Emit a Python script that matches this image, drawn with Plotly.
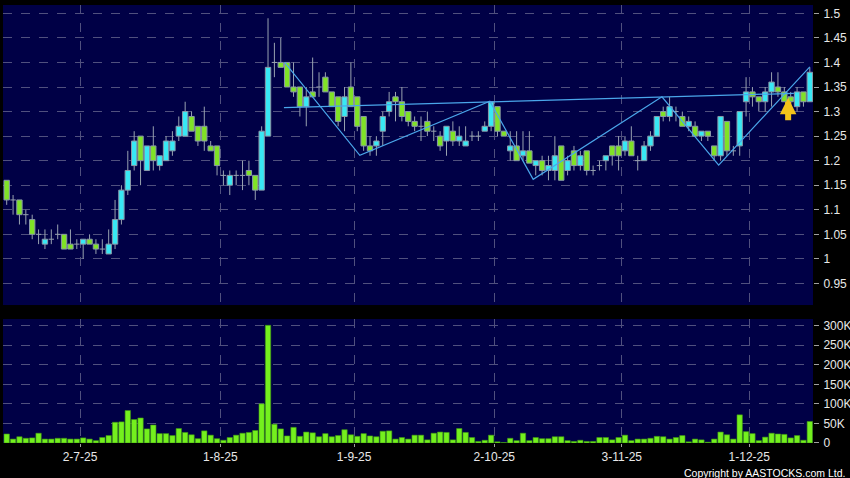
import pandas as pd
import plotly.graph_objects as go

# ---------------- data ----------------
holidays = ["2025-07-01", "2025-10-01", "2025-10-07", "2025-10-29"]
dates = [d.strftime("%Y-%m-%d") for d in pd.bdate_range("2025-06-16", "2025-12-15")
         if d.strftime("%Y-%m-%d") not in holidays]

open_ = [1.16, 1.12, 1.12, 1.09, 1.08, 1.05, 1.03, 1.04, 1.05, 1.05,
         1.03, 1.03, 1.03, 1.04, 1.03, 1.02, 1.01, 1.03, 1.08, 1.14,
         1.19, 1.25, 1.18, 1.23, 1.19, 1.20, 1.22, 1.25, 1.25, 1.29,
         1.27, 1.27, 1.23, 1.23, 1.17, 1.15, 1.17, 1.17, 1.18, 1.17,
         1.14, 1.25, 1.40, 1.40, 1.40, 1.35, 1.35, 1.31, 1.34, 1.35,
         1.37, 1.34, 1.33, 1.29, 1.35, 1.33, 1.29, 1.23, 1.23, 1.26,
         1.30, 1.33, 1.32, 1.30, 1.28, 1.27, 1.28, 1.26, 1.25, 1.24,
         1.26, 1.24, 1.23, 1.25, 1.25, 1.26, 1.27, 1.31, 1.26, 1.22,
         1.23, 1.21, 1.22, 1.19, 1.20, 1.18, 1.18, 1.23, 1.18, 1.22,
         1.19, 1.22, 1.18, 1.19, 1.20, 1.23, 1.23, 1.22, 1.24, 1.20,
         1.20, 1.23, 1.25, 1.30, 1.29, 1.30, 1.29, 1.27, 1.27, 1.25,
         1.26, 1.23, 1.21, 1.28, 1.22, 1.23, 1.32, 1.34, 1.33, 1.32,
         1.34, 1.35, 1.34, 1.33, 1.31, 1.34, 1.32]
high = [1.16, 1.13, 1.12, 1.10, 1.09, 1.06, 1.06, 1.06, 1.07, 1.05,
        1.06, 1.04, 1.04, 1.05, 1.04, 1.04, 1.06, 1.12, 1.15, 1.22,
        1.26, 1.25, 1.23, 1.27, 1.21, 1.25, 1.26, 1.29, 1.32, 1.30,
        1.27, 1.31, 1.24, 1.23, 1.18, 1.18, 1.18, 1.20, 1.20, 1.17,
        1.27, 1.49, 1.44, 1.45, 1.40, 1.40, 1.35, 1.35, 1.41, 1.38,
        1.38, 1.34, 1.33, 1.35, 1.40, 1.33, 1.29, 1.25, 1.25, 1.30,
        1.34, 1.34, 1.35, 1.30, 1.29, 1.29, 1.30, 1.27, 1.26, 1.27,
        1.28, 1.27, 1.27, 1.26, 1.26, 1.28, 1.32, 1.31, 1.26, 1.26,
        1.26, 1.26, 1.26, 1.20, 1.21, 1.21, 1.25, 1.23, 1.21, 1.23,
        1.22, 1.22, 1.19, 1.20, 1.21, 1.23, 1.25, 1.25, 1.27, 1.21,
        1.24, 1.26, 1.29, 1.31, 1.33, 1.31, 1.30, 1.29, 1.28, 1.26,
        1.26, 1.23, 1.29, 1.28, 1.23, 1.30, 1.37, 1.35, 1.33, 1.35,
        1.38, 1.38, 1.35, 1.34, 1.35, 1.34, 1.39]
low = [1.11, 1.09, 1.07, 1.07, 1.04, 1.03, 1.02, 1.03, 1.04, 1.02,
       1.02, 1.02, 1.00, 1.03, 1.01, 1.01, 1.01, 1.02, 1.07, 1.13,
       1.18, 1.15, 1.18, 1.18, 1.18, 1.20, 1.21, 1.24, 1.25, 1.26,
       1.23, 1.22, 1.22, 1.17, 1.15, 1.13, 1.15, 1.14, 1.15, 1.12,
       1.14, 1.25, 1.37, 1.39, 1.35, 1.33, 1.29, 1.27, 1.33, 1.33,
       1.34, 1.31, 1.27, 1.26, 1.31, 1.26, 1.22, 1.21, 1.21, 1.23,
       1.29, 1.28, 1.28, 1.27, 1.26, 1.24, 1.25, 1.24, 1.22, 1.21,
       1.23, 1.23, 1.23, 1.24, 1.24, 1.26, 1.26, 1.25, 1.25, 1.20,
       1.20, 1.20, 1.20, 1.17, 1.17, 1.16, 1.16, 1.16, 1.17, 1.18,
       1.18, 1.17, 1.17, 1.18, 1.18, 1.19, 1.18, 1.21, 1.21, 1.18,
       1.20, 1.22, 1.25, 1.28, 1.28, 1.28, 1.27, 1.26, 1.25, 1.24,
       1.24, 1.20, 1.20, 1.21, 1.21, 1.21, 1.29, 1.31, 1.30, 1.30,
       1.31, 1.33, 1.32, 1.31, 1.30, 1.31, 1.32]
close = [1.12, 1.12, 1.09, 1.09, 1.05, 1.05, 1.04, 1.04, 1.05, 1.02,
         1.02, 1.03, 1.04, 1.03, 1.02, 1.02, 1.03, 1.08, 1.14, 1.18,
         1.24, 1.20, 1.23, 1.20, 1.21, 1.24, 1.24, 1.27, 1.30, 1.26,
         1.24, 1.24, 1.22, 1.19, 1.17, 1.17, 1.17, 1.17, 1.17, 1.14,
         1.26, 1.39, 1.40, 1.39, 1.35, 1.34, 1.31, 1.33, 1.33, 1.35,
         1.34, 1.31, 1.28, 1.33, 1.31, 1.27, 1.23, 1.22, 1.24, 1.29,
         1.32, 1.32, 1.29, 1.28, 1.27, 1.27, 1.26, 1.26, 1.23, 1.27,
         1.24, 1.25, 1.24, 1.25, 1.25, 1.27, 1.32, 1.26, 1.25, 1.23,
         1.20, 1.22, 1.195, 1.20, 1.18, 1.19, 1.21, 1.16, 1.20, 1.19,
         1.21, 1.18, 1.18, 1.19, 1.21, 1.21, 1.21, 1.24, 1.21, 1.20,
         1.23, 1.25, 1.29, 1.29, 1.31, 1.30, 1.27, 1.28, 1.25, 1.26,
         1.25, 1.21, 1.29, 1.22, 1.22, 1.30, 1.34, 1.33, 1.32, 1.34,
         1.36, 1.34, 1.32, 1.32, 1.34, 1.32, 1.38]
volume_k = [23, 10, 16, 12, 13, 25, 10, 10, 12, 12,
            10, 10, 13, 10, 6, 14, 19, 53, 54, 83,
            60, 64, 36, 46, 24, 24, 19, 37, 27, 21,
            11, 31, 20, 11, 7, 14, 20, 25, 27, 32,
            100, 301, 48, 36, 18, 40, 17, 28, 26, 16,
            24, 16, 19, 34, 21, 17, 24, 18, 16, 30,
            31, 10, 14, 10, 20, 20, 8, 25, 28, 27,
            8, 37, 27, 14, 4, 7, 20, 3, 1, 12,
            6, 25, 6, 14, 11, 11, 16, 16, 6, 4,
            7, 4, 4, 14, 14, 8, 14, 20, 6, 10,
            10, 12, 17, 16, 10, 14, 19, 3, 10, 8,
            2, 10, 28, 21, 10, 72, 29, 24, 6, 15,
            25, 23, 22, 13, 19, 7, 55]

tick_dates = ["2025-07-02", "2025-08-01", "2025-09-01", "2025-10-02", "2025-11-03", "2025-12-01"]
tick_labels = ["2-7-25", "1-8-25", "1-9-25", "2-10-25", "3-11-25", "1-12-25"]
price_ticks = [0.95, 1.0, 1.05, 1.1, 1.15, 1.2, 1.25, 1.3, 1.35, 1.4, 1.45, 1.5]
vol_ticks = [0, 50, 100, 150, 200, 250, 300]
vol_tick_labels = ["0", "50K", "100K", "150K", "200K", "250K", "300K"]

# trend-line overlays (x in trading-day index units)
zigzag_x = [43.6, 55.4, 75.8, 82.6, 102.8, 111.7, 126.0]
zigzag_y = [1.400, 1.211, 1.321, 1.162, 1.330, 1.191, 1.391]
neckline_x = [43.5, 123.5]
neckline_y = [1.308, 1.337]
signal_x = 122.6
signal_y = 1.328

# ---------------- figure ----------------
n = len(dates)
x = list(range(n))
tickvals = [dates.index(d) + 0.5 for d in tick_dates]
body_w = 0.84

outline = "#8a98a8"
grid = "#50507e"
label_font = dict(family="Liberation Sans, Arial, sans-serif", size=12, color="#e8e8e8")

# wicks (outside the bodies) + doji bars as one line trace
wx, wy = [], []
for i in range(n):
    top = max(open_[i], close[i])
    bot = min(open_[i], close[i])
    if high[i] > top:
        wx += [i, i, None]
        wy += [top, high[i], None]
    if low[i] < bot:
        wx += [i, i, None]
        wy += [low[i], bot, None]
    if open_[i] == close[i]:
        wx += [i - body_w / 2, i + body_w / 2, None]
        wy += [open_[i], open_[i], None]

up = [i for i in range(n) if close[i] > open_[i]]
dn = [i for i in range(n) if close[i] < open_[i]]

fig = go.Figure()
fig.add_trace(go.Bar(x=up, y=[close[i] - open_[i] for i in up], base=[open_[i] for i in up],
                     width=body_w, marker=dict(color="#38e8f4", line=dict(color=outline, width=1)),
                     xaxis="x", yaxis="y", showlegend=False, hoverinfo="skip"))
fig.add_trace(go.Bar(x=dn, y=[open_[i] - close[i] for i in dn], base=[close[i] for i in dn],
                     width=body_w, marker=dict(color="#80e226", line=dict(color=outline, width=1)),
                     xaxis="x", yaxis="y", showlegend=False, hoverinfo="skip"))
fig.add_trace(go.Scatter(x=wx, y=wy, mode="lines", line=dict(color="#98a2b0", width=1),
                         xaxis="x", yaxis="y", showlegend=False, hoverinfo="skip"))

fig.add_trace(go.Scatter(x=zigzag_x, y=zigzag_y, mode="lines",
                         line=dict(color="#4aa6ea", width=1.2),
                         xaxis="x", yaxis="y", showlegend=False, hoverinfo="skip"))
fig.add_trace(go.Scatter(x=neckline_x, y=neckline_y, mode="lines",
                         line=dict(color="#4aa6ea", width=1.2),
                         xaxis="x", yaxis="y", showlegend=False, hoverinfo="skip"))

fig.add_trace(go.Bar(x=x, y=volume_k, width=0.84,
                     marker=dict(color="#74f01e", line=dict(color="#3f9a12", width=0.6)),
                     xaxis="x2", yaxis="y2", showlegend=False, hoverinfo="skip"))

fig.add_annotation(x=signal_x, y=signal_y, xref="x", yref="y", ax=0, ay=24,
                   showarrow=True, arrowhead=2, arrowsize=0.55, arrowwidth=6,
                   arrowcolor="#f4c21a", text="")

fig.add_annotation(x=1, y=0, xref="paper", yref="paper", xanchor="right", yanchor="top",
                   yshift=-22, xshift=34, showarrow=False,
                   text="Copyright by AASTOCKS.com Ltd.",
                   font=dict(family="Liberation Sans, Arial, sans-serif", size=10.5, color="#ffffff"))

xr = [-0.58, 126.5]
fig.update_layout(
    width=850, height=478,
    margin=dict(l=3, r=37, t=5, b=35, autoexpand=False),
    paper_bgcolor="#000000", plot_bgcolor="#000046",
    barmode="overlay",
    xaxis=dict(domain=[0, 1], anchor="y", range=xr, tickvals=tickvals, showticklabels=False,
               showgrid=True, gridcolor=grid, griddash="dash", gridwidth=1, ticks="",
               zeroline=False, showline=False),
    yaxis=dict(domain=[0.315, 1], range=[0.906, 1.517], side="right", tickvals=price_ticks,
               ticks="outside", ticklen=5, tickcolor="#a0a0a0", tickfont=label_font,
               showgrid=True, gridcolor=grid, griddash="dash", gridwidth=1,
               zeroline=False, showline=False, ticklabelstandoff=2),
    xaxis2=dict(domain=[0, 1], anchor="y2", range=xr, tickvals=tickvals, ticktext=tick_labels,
                ticks="outside", ticklen=3, tickcolor="#a0a0a0", tickfont=label_font,
                showgrid=True, gridcolor=grid, griddash="dash", gridwidth=1,
                zeroline=False, showline=False, matches="x"),
    yaxis2=dict(domain=[0, 0.283], range=[0, 317], side="right", tickvals=vol_ticks,
                ticktext=vol_tick_labels, ticks="outside", ticklen=5, tickcolor="#a0a0a0",
                tickfont=label_font, showgrid=True, gridcolor=grid, griddash="dash",
                gridwidth=1, zeroline=False, showline=False, ticklabelstandoff=2),
)

fig.write_html("out.html", config={"displayModeBar": False},
               post_script="document.body.style.margin='0';document.body.style.background='#000';")
